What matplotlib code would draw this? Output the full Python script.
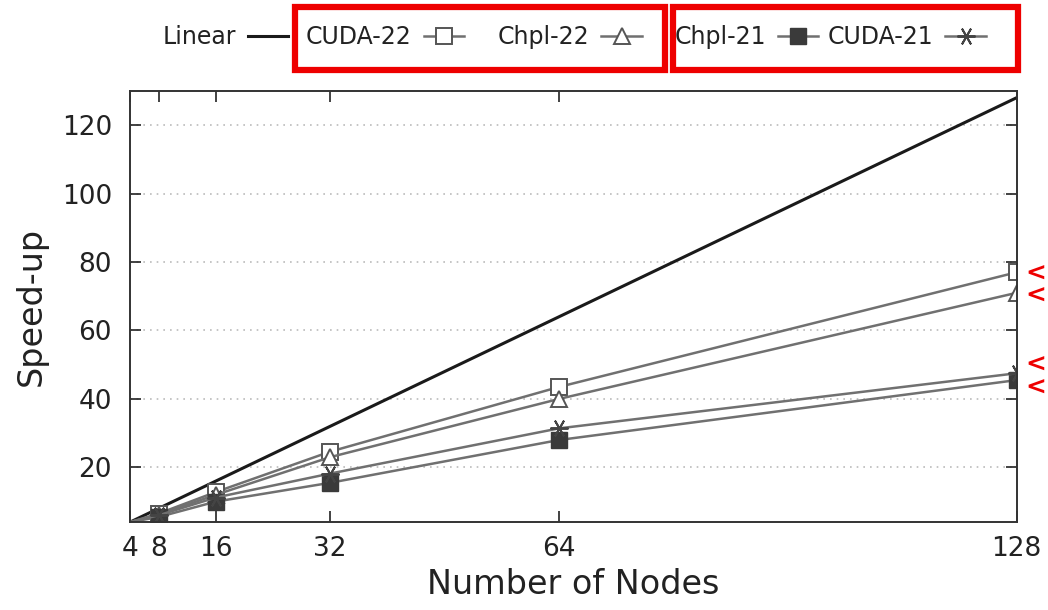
import matplotlib.pyplot as plt
from matplotlib.patches import Rectangle

nodes = [4, 8, 16, 32, 64, 128]
linear = [4, 8, 16, 32, 64, 128]
cuda_22 = [4, 6.5, 12.8, 24.6, 43.5, 77.0]
chpl_22 = [4, 6.2, 12.0, 23.0, 40.0, 71.0]
chpl_21 = [4, 5.5, 10.0, 15.5, 28.0, 45.5]
cuda_21 = [4, 6.0, 11.2, 18.2, 31.4, 47.5]

xticks = [4, 8, 16, 32, 64, 128]
yticks = [20, 40, 60, 80, 100, 120]

plt.rcParams['font.family'] = 'DejaVu Sans'
txt = '#222222'
grey = '#707070'

fig = plt.figure(figsize=(10.48, 6.10), dpi=100)
ax = fig.add_axes([0.124, 0.144, 0.846, 0.707])

h_lin, = ax.plot(nodes, linear, '-', color='#1a1a1a', lw=2.2, label='Linear')
h_c22, = ax.plot(nodes, cuda_22, '-', color=grey, lw=1.8, marker='s', ms=12, mfc='white',
                 mec='#555555', mew=1.4, markevery=slice(1, None), label='CUDA-22')
h_p22, = ax.plot(nodes, chpl_22, '-', color=grey, lw=1.8, marker='^', ms=11, mfc='white',
                 mec='#555555', mew=1.4, markevery=slice(1, None), label='Chpl-22')
h_p21, = ax.plot(nodes, chpl_21, '-', color=grey, lw=1.8, marker='s', ms=12, mfc='#3a3a3a',
                 mec='#3a3a3a', markevery=slice(1, None), label='Chpl-21')
h_c21, = ax.plot(nodes, cuda_21, '-', color=grey, lw=1.8, marker=(6, 2, 90), ms=13,
                 mec='#444444', mew=1.4, markevery=slice(1, None), label='CUDA-21')

ax.set_xlim(4, 128)
ax.set_ylim(4, 130)
ax.set_xticks(xticks)
ax.set_yticks(yticks)
ax.tick_params(direction='in', length=8, width=1.2, top=True, right=True,
               labelsize=19, colors=txt)
ax.tick_params(axis='x', pad=10)
ax.tick_params(axis='y', pad=13)
ax.yaxis.grid(True, ls=(0, (1, 3)), color='#bbbbbb', lw=1.2)
for s in ax.spines.values():
    s.set_linewidth(1.4)
    s.set_color('#333333')

ax.set_xlabel('Number of Nodes', fontsize=24, color=txt, labelpad=4)
ax.set_ylabel('Speed-up', fontsize=24, color=txt, labelpad=10)

# one legend entry per series, text first then sample (gnuplot style)
entries = [(h_lin, 'Linear', 163), (h_c22, 'CUDA-22', 306), (h_p22, 'Chpl-22', 498),
           (h_p21, 'Chpl-21', 675), (h_c21, 'CUDA-21', 828)]
for h, lab, px in entries:
    fig.legend([h], [lab], loc='center left', bbox_to_anchor=(px / 1048, 1 - 37 / 610),
               frameon=False, markerfirst=False, fontsize=17, handlelength=1.7,
               handletextpad=0.5, borderpad=0, borderaxespad=0, labelcolor=txt)

# red highlight boxes around the legend groups (figure pixel coordinates)
boxes = [(295, 540, 370, 63), (673, 540, 345, 63)]
for bx, by, bw, bh in boxes:
    fig.patches.append(Rectangle((bx / 1048, by / 610), bw / 1048, bh / 610,
                                 transform=fig.transFigure, fill=False,
                                 ec='#ee0000', lw=4.5))

# red markers at the right end
for yy in [274, 296, 365, 388]:
    fig.text(1036 / 1048, 1 - yy / 610, '<', color='#ee0000', fontsize=18,
             fontweight='heavy', ha='center', va='center')

fig.savefig('out.png', dpi=100)
